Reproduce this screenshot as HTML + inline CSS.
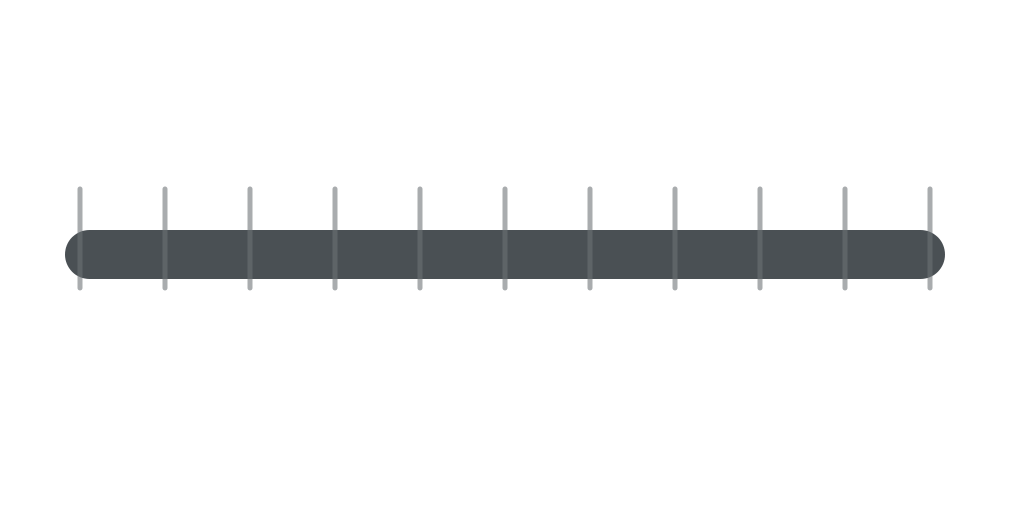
<!DOCTYPE html>
<html><head><meta charset="utf-8"><style>html,body{margin:0;padding:0;background:#fff;width:1024px;height:512px;overflow:hidden}</style></head>
<body>
<svg id="chart" width="1024" height="512" viewBox="0 0 1024 512">
<rect x="65" y="230" width="880" height="49" rx="24.5" fill="#4a5054"/>
<g id="ticks"></g>
</svg>
<script>
const tickValues = [0,1,2,3,4,5,6,7,8,9,10];
const xScale = v => 80 + v * 85;
const g = document.getElementById('ticks');
tickValues.forEach(v => {
  const l = document.createElementNS('http://www.w3.org/2000/svg','line');
  
  
  l.setAttribute('x1', xScale(v)); l.setAttribute('x2', xScale(v));
  l.setAttribute('y1', 189); l.setAttribute('y2', 288);
  l.setAttribute('stroke', 'rgba(109,114,118,0.59)');
  l.setAttribute('stroke-width', 5);
  l.setAttribute('stroke-linecap', 'round');
  g.appendChild(l);
});
</script>
</body></html>
